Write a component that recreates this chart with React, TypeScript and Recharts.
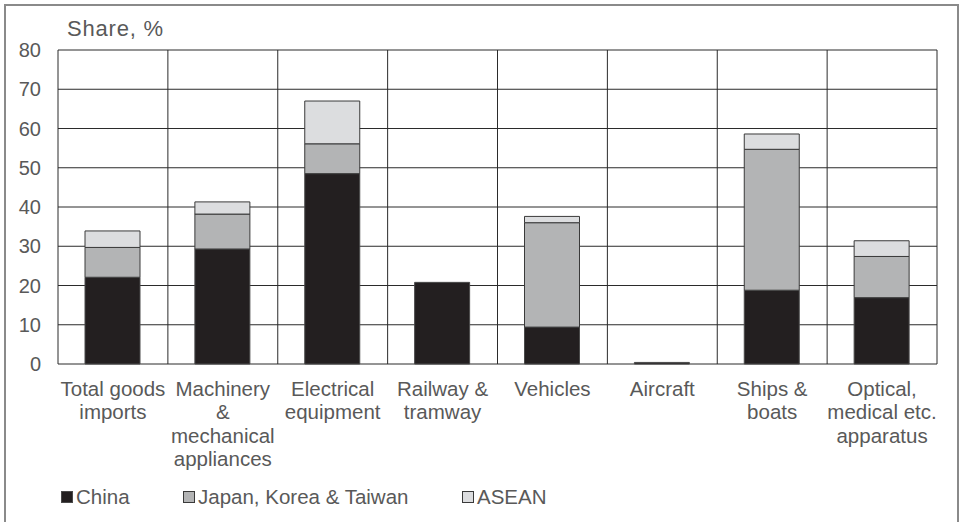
import { BarChart, Bar, XAxis, YAxis, CartesianGrid } from 'recharts';

const categoryLines = [
  ['Total goods', 'imports'],
  ['Machinery', '&', 'mechanical', 'appliances'],
  ['Electrical', 'equipment'],
  ['Railway &', 'tramway'],
  ['Vehicles'],
  ['Aircraft'],
  ['Ships &', 'boats'],
  ['Optical,', 'medical etc.', 'apparatus'],
];
const categories = categoryLines.map((l) => l.join(' '));

const china = [22.1, 29.3, 48.5, 20.8, 9.4, 0.4, 18.8, 16.9];
const japanKoreaTaiwan = [7.6, 8.9, 7.6, 0, 26.6, 0, 35.9, 10.5];
const asean = [4.2, 3.1, 10.9, 0, 1.6, 0, 3.9, 4.0];
const yTicks = [0, 10, 20, 30, 40, 50, 60, 70, 80];

const series = [
  { key: 'china', name: 'China', fill: '#231f20', stroke: '#4a4a4a' },
  { key: 'jkt', name: 'Japan, Korea & Taiwan', fill: '#b3b4b5', stroke: '#3a3a3a' },
  { key: 'asean', name: 'ASEAN', fill: '#dcdddf', stroke: '#3a3a3a' },
];

const data = categories.map((c, i) => ({
  name: c,
  china: china[i],
  jkt: japanKoreaTaiwan[i],
  asean: asean[i],
}));

const FONT = '"Liberation Sans", Arial, sans-serif';
const TEXT = '#595959';

function CategoryTick(props: any) {
  const { x, y, payload } = props;
  const lines = categoryLines[payload.index] || [payload.value];
  return (
    <text x={x} y={y} textAnchor="middle" fill={TEXT} fontSize={20.5} fontFamily={FONT}>
      {lines.map((line, i) => (
        <tspan key={i} x={x} y={y + 24 + i * 23.3}>
          {line}
        </tspan>
      ))}
    </text>
  );
}

export default function App() {
  return (
    <div style={{ position: 'absolute', left: 0, top: 0, width: 961, height: 522, background: '#fff', overflow: 'hidden', fontFamily: FONT }}>
      <div style={{ position: 'absolute', left: 4, top: 4, width: 951, height: 540, border: '2px solid #8a8a8a' }} />
      <div style={{ position: 'absolute', left: 67, top: 16, fontSize: 22, color: TEXT, letterSpacing: 0.8 }}>Share, %</div>
      <div style={{ position: 'absolute', left: 0, top: 0 }}>
        <BarChart width={961} height={522} data={data} margin={{ top: 50, right: 24, bottom: 0, left: 0 }} barSize={55}>
          <CartesianGrid
            stroke="#2b2b2b"
            strokeWidth={1}
            verticalCoordinatesGenerator={({ offset }: any) =>
              categories.map((_, i) => offset.left + (i * offset.width) / categories.length).concat(offset.left + offset.width)
            }
          />
          <XAxis dataKey="name" height={158} axisLine={false} tickLine={false} interval={0} tick={<CategoryTick />} />
          <YAxis
            width={58}
            domain={[0, 80]}
            ticks={yTicks}
            axisLine={false}
            tickLine={false}
            tickMargin={11}
            tick={{ fill: TEXT, fontSize: 20, fontFamily: FONT }}
          />
          {series.map((s) => (
            <Bar key={s.key} dataKey={s.key} name={s.name} stackId="a" fill={s.fill} stroke={s.stroke} strokeWidth={1} isAnimationActive={false} />
          ))}
        </BarChart>
      </div>
      <div style={{ position: 'absolute', left: 61, top: 485, display: 'flex', alignItems: 'center', fontSize: 20.5, color: TEXT }}>
        {series.map((s, i) => (
          <div key={s.key} style={{ display: 'flex', alignItems: 'center', width: i === 0 ? 122 : i === 1 ? 279 : 'auto' }}>
            <span style={{ display: 'inline-block', width: 10, height: 10, background: s.fill, border: `1px solid ${s.stroke}`, marginRight: 3 }} />
            <span>{s.name}</span>
          </div>
        ))}
      </div>
    </div>
  );
}
